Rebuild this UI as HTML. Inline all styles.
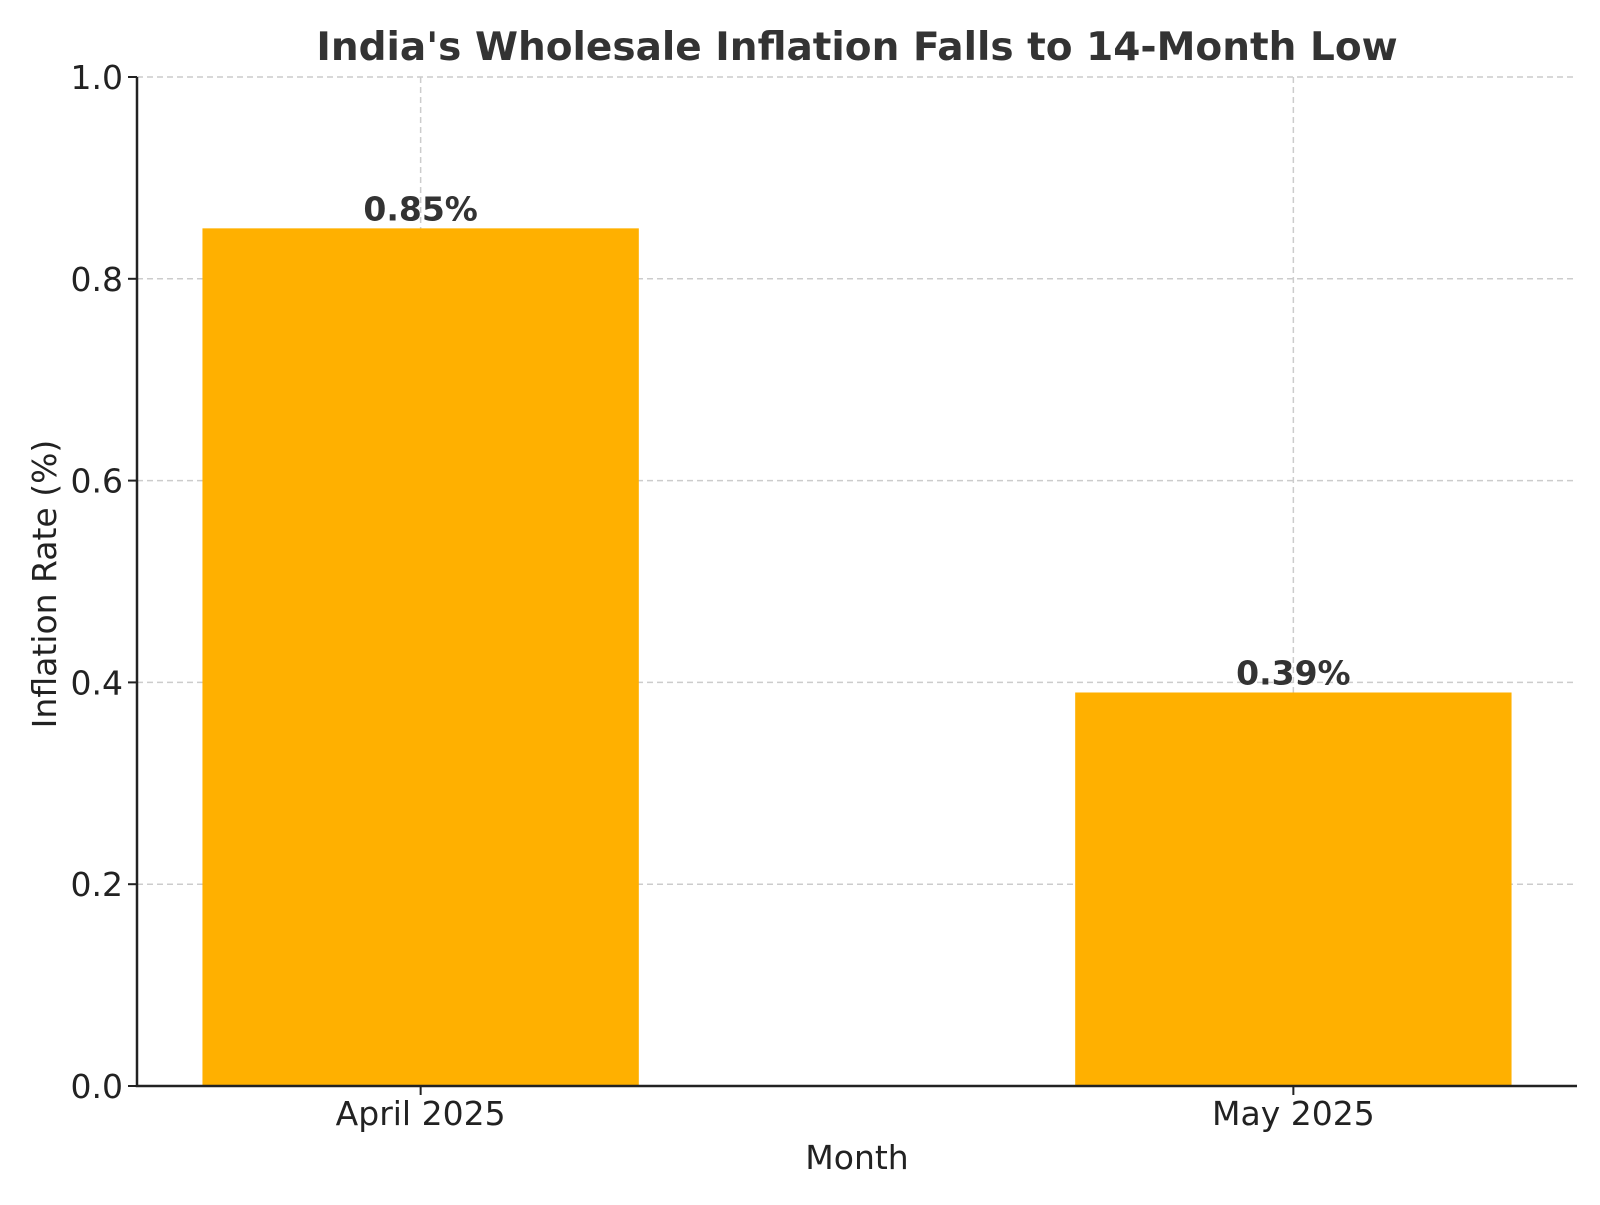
<!DOCTYPE html>
<html><head><meta charset="utf-8"><style>
body{margin:0;background:#fff}
svg text{font-family:"DejaVu Sans","Liberation Sans",sans-serif}
</style></head><body>
<svg id="chart" width="1600" height="1200" viewBox="0 0 1600 1200" xmlns="http://www.w3.org/2000/svg">
<rect width="1600" height="1200" fill="#fff"/>
<text x="857" y="60" text-anchor="middle" font-size="39" font-weight="bold" fill="#333">India's Wholesale Inflation Falls to 14-Month Low</text>
<g id="grid"></g>
<g id="bars"></g>
<g id="axes"></g>
<text x="857" y="1169" text-anchor="middle" font-size="33" fill="#222">Month</text>
<text transform="translate(56,584) rotate(-90)" text-anchor="middle" font-size="33" fill="#222">Inflation Rate (%)</text>
</svg>
<script>
const categories = ["April 2025", "May 2025"];
const values = [0.85, 0.39];
const valueLabels = ["0.85%", "0.39%"];
const yTicks = [0, 0.2, 0.4, 0.6, 0.8, 1.0];
const yTickLabels = ["0.0", "0.2", "0.4", "0.6", "0.8", "1.0"];

const L=137,R=1577,T=77,B=1086;
const xMin=-0.325,xMax=1.325,yMin=0,yMax=1;
const xs=v=>L+(v-xMin)/(xMax-xMin)*(R-L);
const ys=v=>B-(v-yMin)/(yMax-yMin)*(B-T);
const NS="http://www.w3.org/2000/svg";
function mk(tag,attrs,parent,text){const e=document.createElementNS(NS,tag);for(const k in attrs)e.setAttribute(k,attrs[k]);if(text!==undefined)e.textContent=text;parent.appendChild(e);return e;}
const grid=document.getElementById('grid'),bars=document.getElementById('bars'),axes=document.getElementById('axes');
yTicks.forEach((t,i)=>{
  const g=mk('line',{x1:L,x2:R,y1:ys(t),y2:ys(t),stroke:'#cccccc','stroke-width':1.5,'stroke-dasharray':'6,4'},grid);
  
  
  const tk=mk('line',{x1:L-9,x2:L,y1:ys(t),y2:ys(t),stroke:'#222','stroke-width':2},axes);
  
  
  const lb=mk('text',{x:L-14,y:ys(t)+12,'text-anchor':'end','font-size':33,fill:'#222'},axes,yTickLabels[i]);
  
  
});
categories.forEach((c,i)=>{
  const g=mk('line',{x1:xs(i),x2:xs(i),y1:T,y2:B,stroke:'#cccccc','stroke-width':1.5,'stroke-dasharray':'6,4'},grid);
  
  
  const x0=xs(i-0.25),x1=xs(i+0.25);
  const b=mk('rect',{x:x0,y:ys(values[i]),width:x1-x0,height:ys(0)-ys(values[i]),fill:'#FFB000'},bars);
  
  
  const vl=mk('text',{x:xs(i),y:ys(values[i])-8,'text-anchor':'middle','font-size':33,'font-weight':'bold',fill:'#333'},bars,valueLabels[i]);
  
  
  const tk=mk('line',{x1:xs(i),x2:xs(i),y1:B,y2:B+9,stroke:'#222','stroke-width':2},axes);
  
  
  const lb=mk('text',{x:xs(i),y:B+39,'text-anchor':'middle','font-size':33,fill:'#222'},axes,c);
  
  
});
const ax=mk('path',{d:`M${L},${T} L${L},${B} L${R},${B}`,fill:'none',stroke:'#222','stroke-width':2.5},axes);


</script>
</body></html>
